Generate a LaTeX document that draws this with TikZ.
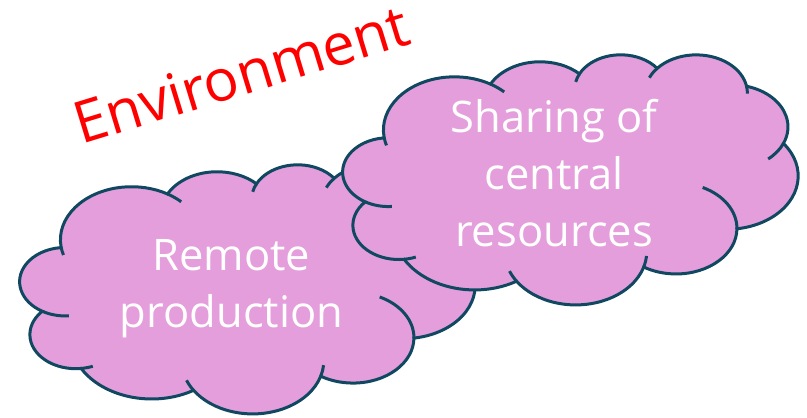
\documentclass[tikz,border=0pt]{standalone}
\usepackage{fontspec}
\setmainfont{Open Sans}
\definecolor{cloudfill}{RGB}{228,158,219}
\definecolor{cloudedge}{RGB}{16,72,98}
\makeatletter
\newcommand\vang[4]{%
  \pgfmathsetmacro\vang@t{atan2((#2)*sin(#4),(#3)*cos(#4))-(#4)}%
  \pgfmathsetmacro\vang@t{\vang@t-360*round(\vang@t/360)}%
  \pgfmathsetmacro#1{(#4)+\vang@t}%
}
\makeatother
% outline arcs (PowerPoint cloud geometry, visual angles -> parametric)
\vang\tAs{6.753}{9.190}{-190.48748}\vang\tAe{6.753}{9.190}{-66.70695}
\vang\tBs{5.333}{7.267}{-144.10238}\vang\tBe{5.333}{7.267}{-54.15715}
\vang\tCs{4.365}{5.945}{-145.80792}\vang\tCe{4.365}{5.945}{-46.08490}
\vang\tDs{4.857}{6.595}{-130.98607}\vang\tDe{4.857}{6.595}{-13.74434}
\vang\tEs{5.333}{7.273}{-78.70888}\vang\tEe{5.333}{7.273}{30.31804}
\vang\tFs{6.775}{9.220}{-46.26725}\vang\tFe{6.775}{9.220}{84.00175}
\vang\tGs{5.785}{7.867}{0.62502}\vang\tGe{5.785}{7.867}{114.65835}
\vang\tHs{6.752}{9.215}{22.45160}\vang\tHe{6.752}{9.215}{137.62415}
\vang\tIs{7.720}{10.543}{66.24263}\vang\tIe{7.720}{10.543}{141.95365}
\vang\tJs{4.360}{5.918}{-274.94208}\vang\tJe{4.360}{5.918}{-128.20651}
\vang\tKs{4.345}{5.945}{-246.82850}\vang\tKe{4.345}{5.945}{-94.30965}
% inner stroke ends
\vang\tAx{6.753}{9.190}{-54.38760}\vang\tAy{6.753}{9.190}{-202.34565}
\vang\tCy{4.365}{5.945}{-163.49427}
\vang\tDx{4.857}{6.595}{1.11457}\vang\tDy{4.857}{6.595}{-149.18145}
\vang\tEx{5.333}{7.273}{58.06953}
\vang\tGy{5.785}{7.867}{-70.29235}
\vang\tHx{6.752}{9.215}{151.70525}\vang\tHy{6.752}{9.215}{6.45327}
\vang\tJy{4.360}{5.918}{-286.38960}
\vang\tKy{4.345}{5.945}{-273.25800}
\tikzset{
  cloudbody/.style={fill=cloudfill, draw=cloudedge, line width=3pt},
  cloudline/.style={draw=cloudedge, line width=3pt},
  cloudtext/.style={text=white, font=\fontsize{43.5}{57}\selectfont, anchor=base, inner sep=0pt},
  envtext/.style={text=red, font=\fontsize{58}{70}\selectfont, anchor=base, inner sep=0pt, rotate=17}
}
\newcommand\cloudshape[5]{%
\begin{scope}[shift={(#2,#3)}, x=#4, y=-#5]
\filldraw[cloudbody] (3.900,14.370) coordinate (#1a)
  arc[start angle=\tAs, end angle=\tAe, x radius=6.753, y radius=9.190] coordinate (#1b)
  arc[start angle=\tBs, end angle=\tBe, x radius=5.333, y radius=7.267] coordinate (#1c)
  arc[start angle=\tCs, end angle=\tCe, x radius=4.365, y radius=5.945] coordinate (#1d)
  arc[start angle=\tDs, end angle=\tDe, x radius=4.857, y radius=6.595] coordinate (#1e)
  arc[start angle=\tEs, end angle=\tEe, x radius=5.333, y radius=7.273] coordinate (#1f)
  arc[start angle=\tFs, end angle=\tFe, x radius=6.775, y radius=9.220] coordinate (#1g)
  arc[start angle=\tGs, end angle=\tGe, x radius=5.785, y radius=7.867] coordinate (#1h)
  arc[start angle=\tHs, end angle=\tHe, x radius=6.752, y radius=9.215] coordinate (#1i)
  arc[start angle=\tIs, end angle=\tIe, x radius=7.720, y radius=10.543] coordinate (#1j)
  arc[start angle=\tJs, end angle=\tJe, x radius=4.360, y radius=5.918] coordinate (#1k)
  arc[start angle=\tKs, end angle=\tKe, x radius=4.345, y radius=5.945] -- cycle;
\draw[cloudline]
  (#1b) arc[start angle=\tAe, end angle=\tAx, x radius=6.753, y radius=9.190]
  (#1a) arc[start angle=\tAs, end angle=\tAy, x radius=6.753, y radius=9.190]
  (#1c) arc[start angle=\tCs, end angle=\tCy, x radius=4.365, y radius=5.945]
  (#1e) arc[start angle=\tDe, end angle=\tDx, x radius=4.857, y radius=6.595]
  (#1d) arc[start angle=\tDs, end angle=\tDy, x radius=4.857, y radius=6.595]
  (#1f) arc[start angle=\tEe, end angle=\tEx, x radius=5.333, y radius=7.273]
  (#1g) arc[start angle=\tGs, end angle=\tGy, x radius=5.785, y radius=7.867]
  (#1i) arc[start angle=\tHe, end angle=\tHx, x radius=6.752, y radius=9.215]
  (#1h) arc[start angle=\tHs, end angle=\tHy, x radius=6.752, y radius=9.215]
  (#1j) arc[start angle=\tJs, end angle=\tJy, x radius=4.360, y radius=5.918]
  (#1k) arc[start angle=\tKs, end angle=\tKy, x radius=4.345, y radius=5.945];
\end{scope}}
\begin{document}
\begin{tikzpicture}[x=1pt,y=-1pt]
\useasboundingbox (0,0) rectangle (807,418);
\cloudshape{L}{20}{164}{10.5324pt}{5.7639pt}
\cloudshape{R}{343}{54}{10.5324pt}{5.7870pt}
\node[cloudtext] (remote) at (231.5,270) {\begin{tabular}[t]{@{}c@{}}Remote\\production\end{tabular}};
\node[cloudtext] (sharing) at (554,132) {\begin{tabular}[t]{@{}c@{}}Sharing of\\central\\resources\end{tabular}};
\node[envtext] (env) at (247.5,94) {Environment};
\end{tikzpicture}
\end{document}
